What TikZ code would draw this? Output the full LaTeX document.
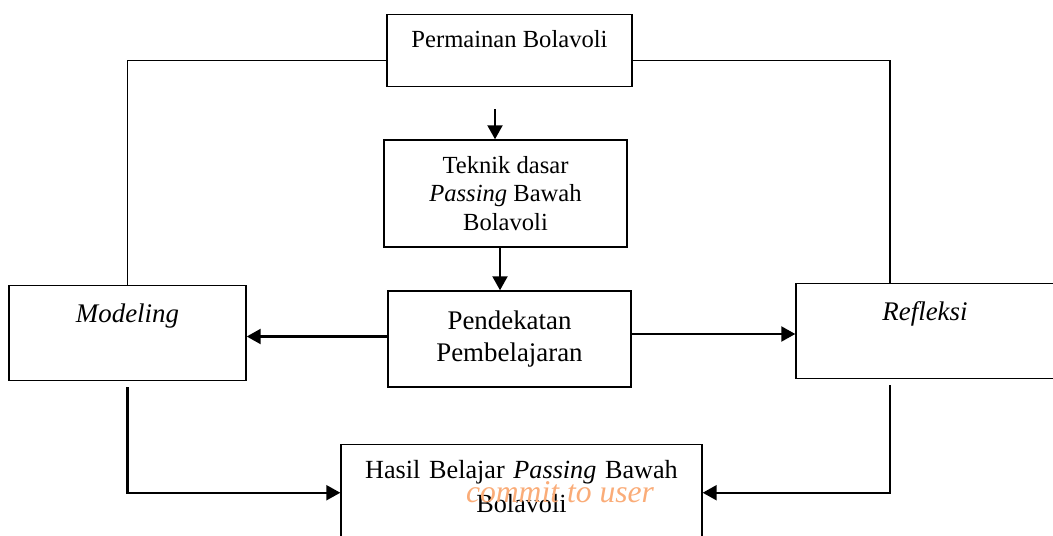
\documentclass[tikz,border=0pt]{standalone}
\usepackage{fontspec}
\setmainfont{Liberation Serif}
\usetikzlibrary{arrows.meta}
\definecolor{wmorange}{RGB}{250,172,120}
\begin{document}
\begin{tikzpicture}[x=0.02cm,y=-0.02cm,
  box/.style={draw,line width=0.85pt,inner sep=0pt,align=center},
  small/.style={font=\fontsize{14}{16.2}\selectfont},
  big/.style={font=\fontsize{15.3}{18.2}\selectfont},
  arr/.style={line width=1.25pt,-{Triangle[length=0.28cm,width=0.3cm]}},
  link/.style={line width=0.8pt}]
\useasboundingbox (0,0) rectangle (1053,536);
%boxes
\node[box,small,anchor=north,minimum width=4.9cm,text height=0.66cm,text depth=0.78cm] (perm) at (509.5,14) {Permainan Bolavoli};
\node[box,small,minimum width=4.86cm,minimum height=2.14cm] (teknik) at (505.5,193.5) {Teknik dasar\\\textit{Passing} Bawah\\Bolavoli};
\node[box,big,minimum width=4.86cm,minimum height=1.92cm] (pend) at (509.5,339) {Pendekatan\\Pembelajaran};
\node[box,big,anchor=north,minimum width=4.74cm,text height=0.74cm,text depth=1.16cm] (modeling) at (127.5,285) {\textit{Modeling}};
\node[box,big,anchor=north,minimum width=5.16cm,text height=0.74cm,text depth=1.16cm] (refleksi) at (925,283) {\textit{Refleksi}};
\node[box,anchor=north,text width=7.22cm,text height=0.68cm,text depth=1.24cm,font=\fontsize{14.9}{19.3}\selectfont] (hasil) at (521.5,444) {Hasil Belajar \textit{Passing} Bawah\\Bolavoli};
%connectors
\draw[link] ([yshift=-0.2cm]perm.west) -| (modeling.north);
\draw[link] ([yshift=-0.2cm]perm.east) -| ([xshift=-0.7cm]refleksi.north);
\draw[arr,shorten <=0.44cm] ([xshift=-0.29cm]perm.south) -- ([xshift=-0.29cm]perm.south |- teknik.north);
\draw[arr] ([xshift=-0.11cm]teknik.south) -- ([xshift=-0.11cm]teknik.south |- pend.north);
\draw[arr] ([yshift=0.05cm]pend.west) -- ([yshift=0.05cm]pend.west -| modeling.east);
\draw[arr] ([yshift=0.1cm]pend.east) -- ([yshift=0.1cm]pend.east -| refleksi.west);
\draw[arr,shorten <=0.12cm] (modeling.south) |- (hasil.west);
\draw[arr,shorten <=0.12cm] ([xshift=-0.7cm]refleksi.south) |- (hasil.east);
%watermark
\node[text=wmorange,font=\fontsize{18}{20}\selectfont\itshape,anchor=base] (wm) at (560,502) {commit to user};
\end{tikzpicture}
\end{document}
